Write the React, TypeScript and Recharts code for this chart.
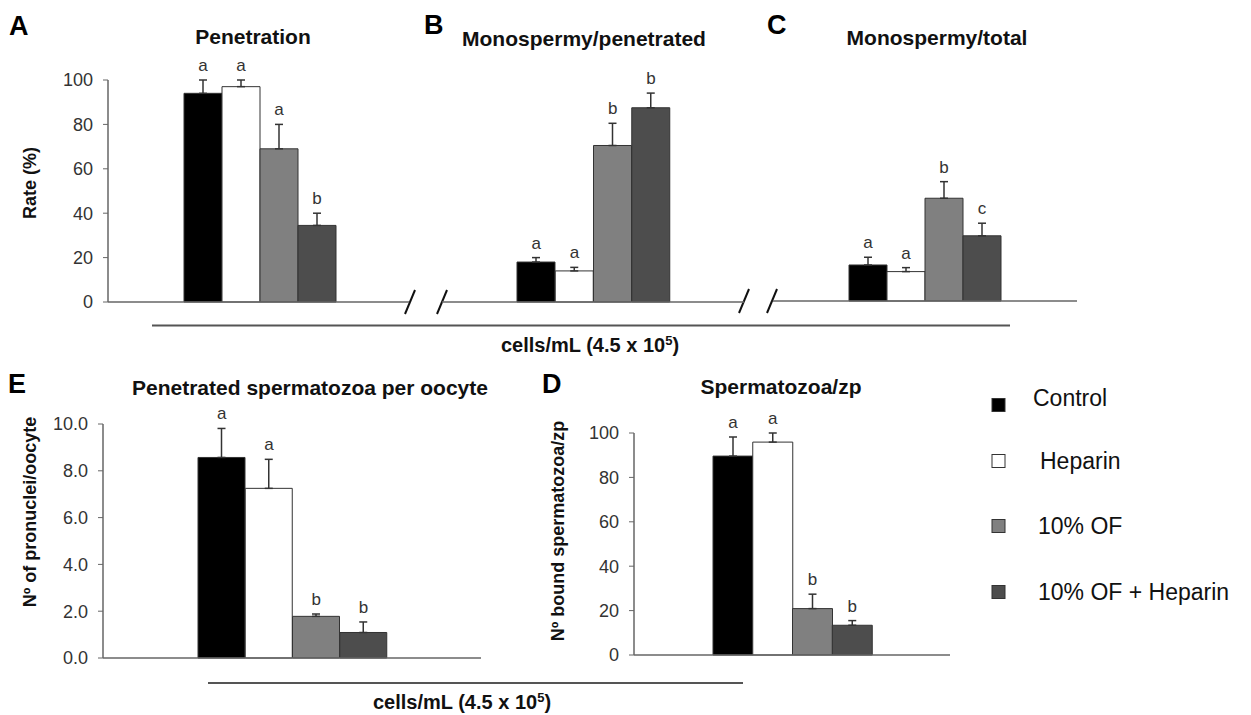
import React from 'react'
import { ComposedChart, Bar, Line, XAxis, YAxis, Cell, ErrorBar, LabelList } from 'recharts'

// treatment groups, shared by every panel
const GROUPS = ['Control', 'Heparin', '10% OF', '10% OF + Heparin']
const FILLS = ['#000000', '#ffffff', '#808080', '#4d4d4d']

// A - penetration rate (%)
const PEN_VALUES = [94, 97, 69, 34.5]
const PEN_ERRORS = [6, 3, 11, 5.5]
const PEN_LETTERS = ['a', 'a', 'a', 'b']

// B - monospermy / penetrated (%)
const MONO_PEN_VALUES = [18, 14, 70.5, 87.5]
const MONO_PEN_ERRORS = [2, 1.6, 10, 6.6]
const MONO_PEN_LETTERS = ['a', 'a', 'b', 'b']

// C - monospermy / total (%)
const MONO_TOT_VALUES = [16.3, 13.3, 46.5, 29.5]
const MONO_TOT_ERRORS = [3.5, 1.8, 7.5, 5.7]
const MONO_TOT_LETTERS = ['a', 'a', 'b', 'c']

// E - penetrated spermatozoa per oocyte
const SPZ_OOCYTE_VALUES = [8.57, 7.25, 1.78, 1.09]
const SPZ_OOCYTE_ERRORS = [1.24, 1.24, 0.1, 0.45]
const SPZ_OOCYTE_LETTERS = ['a', 'a', 'b', 'b']

// D - bound spermatozoa per zona pellucida
const BOUND_ZP_VALUES = [89.6, 95.9, 20.9, 13.4]
const BOUND_ZP_ERRORS = [8.6, 4.1, 6.5, 2.1]
const BOUND_ZP_LETTERS = ['a', 'a', 'b', 'b']

const RATE_TICKS = [0, 20, 40, 60, 80, 100]
const PRONUCLEI_TICKS = [0, 2, 4, 6, 8, 10]

const W = 1251
const H = 715
const AXIS = '#666'
const INK = '#333'
const FONT = '"Liberation Sans", Arial, Helvetica, sans-serif'

const buildRows = (values: number[], errors: number[], letters: string[]) =>
  GROUPS.map((g, i) => ({
    group: g,
    value: values[i],
    err: [0, errors[i]],
    top: values[i] + errors[i],
    letter: letters[i],
  }))

type PanelProps = {
  rows: any[]
  x0: number
  x1: number
  yTop: number
  yBottom: number
  padL: number
  padR: number
  domain: [number, number]
  ticks: number[]
  showAxis?: boolean
  fmt?: (v: number) => string
}

function BarPanel({ rows, x0, x1, yTop, yBottom, padL, padR, domain, ticks, showAxis, fmt }: PanelProps) {
  const yw = 60
  return (
    <div style={{ position: 'absolute', left: 0, top: 0 }}>
      <ComposedChart
        width={W}
        height={H}
        data={rows}
        margin={{ top: yTop, bottom: H - yBottom - 2, left: showAxis ? x0 - yw : x0, right: W - x1 }}
        barCategoryGap={0}
        barGap={0}
      >
        <XAxis
          dataKey="group"
          type="category"
          tick={false}
          tickLine={false}
          height={2}
          padding={{ left: padL, right: padR }}
          axisLine={{ stroke: AXIS, strokeWidth: 1.5 }}
        />
        <YAxis
          hide={!showAxis}
          domain={domain}
          ticks={ticks}
          interval={0}
          width={yw}
          tick={{ fontSize: 18, fill: INK }}
          tickLine={{ stroke: AXIS }}
          axisLine={{ stroke: AXIS, strokeWidth: 1.5 }}
          tickSize={5}
          tickMargin={10}
          tickFormatter={fmt}
        />
        <Bar dataKey="value" stroke="#333" strokeWidth={1} isAnimationActive={false}>
          {rows.map((_, i) => (
            <Cell key={i} fill={FILLS[i]} />
          ))}
          <ErrorBar dataKey="err" direction="y" width={4} stroke="#333" strokeWidth={1.5} />
        </Bar>
        <Line dataKey="top" stroke="none" dot={false} activeDot={false} isAnimationActive={false} legendType="none">
          <LabelList dataKey="letter" position="top" offset={9} fill={INK} fontSize={17} />
        </Line>
      </ComposedChart>
    </div>
  )
}

const Slash = ({ cx, cy }: { cx: number; cy: number }) => (
  <line x1={cx + 5} y1={cy - 12} x2={cx - 5} y2={cy + 12} stroke="#111" strokeWidth={2} />
)

const CellsLabel = ({ x, y }: { x: number; y: number }) => (
  <text x={x} y={y} textAnchor="middle" fontSize={20} fontWeight="bold" fill="#111">
    cells/mL (4.5 x 10<tspan dy={-7} fontSize={13}>5</tspan>
    <tspan dy={7}>)</tspan>
  </text>
)

const LEGEND_Y = [405, 461, 526, 592]
const LEGEND_TEXT_X = [1033, 1040, 1038, 1038]

function Overlay() {
  const title = { fontSize: 21, fontWeight: 'bold' as const, fill: '#111', textAnchor: 'middle' as const }
  const letter = { fontSize: 27, fontWeight: 'bold' as const, fill: '#000' }
  const ylab = { fontSize: 18, fontWeight: 'bold' as const, fill: '#111', textAnchor: 'middle' as const }
  return (
    <svg width={W} height={H} style={{ position: 'absolute', left: 0, top: 0 }}>
      {/* panel letters */}
      <text x={9} y={35} {...letter}>A</text>
      <text x={424} y={34} {...letter}>B</text>
      <text x={767} y={34} {...letter}>C</text>
      <text x={8} y={393} {...letter}>E</text>
      <text x={542} y={393} {...letter}>D</text>

      {/* panel titles */}
      <text x={253} y={44} {...title}>Penetration</text>
      <text x={584} y={46} {...title}>Monospermy/penetrated</text>
      <text x={937} y={45} {...title}>Monospermy/total</text>
      <text x={310} y={395} {...title}>Penetrated spermatozoa per oocyte</text>
      <text x={781} y={394} {...title}>Spermatozoa/zp</text>

      {/* y axis titles */}
      <text transform="translate(36,183) rotate(-90)" {...ylab}>Rate (%)</text>
      <text transform="translate(36,512) rotate(-90)" {...ylab}>Nº of pronuclei/oocyte</text>
      <text transform="translate(564,531) rotate(-90)" {...ylab}>Nº bound spermatozoa/zp</text>

      {/* axis breaks */}
      <Slash cx={410} cy={302} />
      <Slash cx={442} cy={302} />
      <Slash cx={744} cy={301} />
      <Slash cx={772} cy={301} />

      {/* concentration brackets */}
      <line x1={152} x2={1010} y1={325.5} y2={325.5} stroke="#555" strokeWidth={2} />
      <CellsLabel x={590} y={352} />
      <line x1={208} x2={743} y1={683} y2={683} stroke="#555" strokeWidth={2} />
      <CellsLabel x={462} y={709} />

      {/* legend */}
      {GROUPS.map((g, i) => (
        <g key={g}>
          <rect x={992} y={LEGEND_Y[i] - 6.5} width={13} height={13} fill={FILLS[i]} stroke="#333" strokeWidth={1} />
          <text x={LEGEND_TEXT_X[i]} y={LEGEND_Y[i] + (i === 0 ? 1 : 8)} fontSize={23} fill="#111">
            {g}
          </text>
        </g>
      ))}
    </svg>
  )
}

export default function App() {
  return (
    <div style={{ position: 'absolute', left: 0, top: 0, width: W, height: H, background: '#fff', fontFamily: FONT }}>
      <Overlay />
      <BarPanel
        rows={buildRows(PEN_VALUES, PEN_ERRORS, PEN_LETTERS)}
        x0={108} x1={409} yTop={80} yBottom={302} padL={76} padR={73}
        domain={[0, 100]} ticks={RATE_TICKS} showAxis
      />
      <BarPanel
        rows={buildRows(MONO_PEN_VALUES, MONO_PEN_ERRORS, MONO_PEN_LETTERS)}
        x0={442} x1={744} yTop={80} yBottom={302} padL={75} padR={74}
        domain={[0, 100]} ticks={RATE_TICKS}
      />
      <BarPanel
        rows={buildRows(MONO_TOT_VALUES, MONO_TOT_ERRORS, MONO_TOT_LETTERS)}
        x0={773} x1={1077} yTop={80} yBottom={301} padL={76} padR={76}
        domain={[0, 100]} ticks={RATE_TICKS}
      />
      <BarPanel
        rows={buildRows(SPZ_OOCYTE_VALUES, SPZ_OOCYTE_ERRORS, SPZ_OOCYTE_LETTERS)}
        x0={103} x1={481} yTop={424} yBottom={658} padL={95} padR={94}
        domain={[0, 10]} ticks={PRONUCLEI_TICKS} showAxis fmt={(v) => v.toFixed(1)}
      />
      <BarPanel
        rows={buildRows(BOUND_ZP_VALUES, BOUND_ZP_ERRORS, BOUND_ZP_LETTERS)}
        x0={634} x1={950} yTop={433} yBottom={655} padL={79} padR={78}
        domain={[0, 100]} ticks={RATE_TICKS} showAxis
      />
    </div>
  )
}
